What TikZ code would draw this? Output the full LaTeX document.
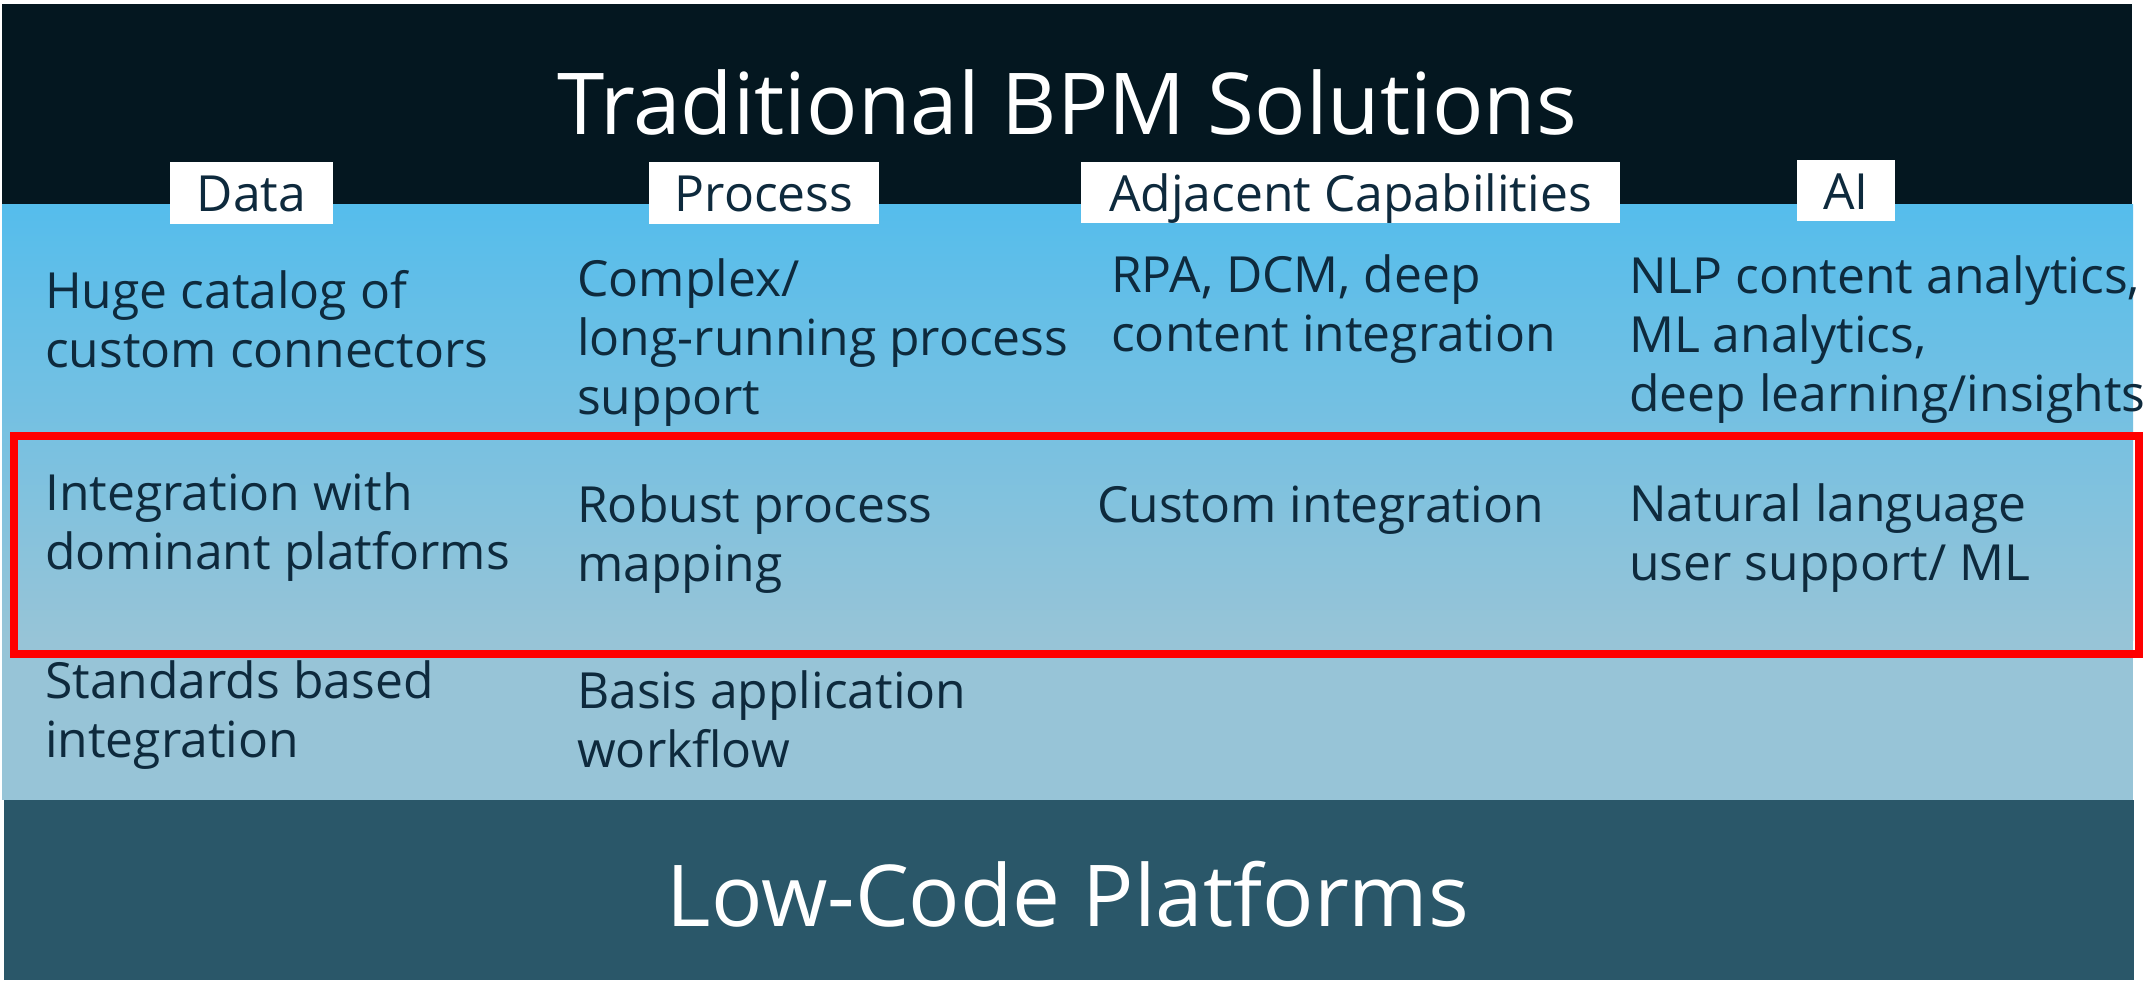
\documentclass[tikz,border=0pt]{standalone}
\usepackage{fontspec}
\setmainfont{Open Sans}
\definecolor{topbg}{HTML}{041720}
\definecolor{blueA}{HTML}{55BDEC}
\definecolor{blueB}{HTML}{97C4D7}
\definecolor{lowbg}{HTML}{2A5769}
\definecolor{txt}{HTML}{0E2A3D}
\definecolor{redline}{HTML}{FF0000}
\tikzset{
  body/.style={anchor=base west, inner sep=0pt, align=left, text=txt,
    font=\fontsize{49.8}{59}\selectfont},
  lab/.style={fill=white, inner sep=0pt, text=txt, anchor=center,
    text height=37pt, text depth=0pt,
    font=\fontsize{49.8}{59}\selectfont},
  bigtitle/.style={anchor=base, inner sep=0pt, text=white,
    font=\fontsize{85.4}{100}\selectfont}
}
\begin{document}
\begin{tikzpicture}[x=1pt,y=-1pt]
\useasboundingbox (0,0) rectangle (2151,980);
\fill[white] (0,0) rectangle (2151,980);
\fill[topbg] (2,4) rectangle (2132,204);
\shade[top color=blueA, bottom color=blueB] (2,204) rectangle (2133,640);
\fill[blueB] (2,639.5) rectangle (2133,800);
\fill[lowbg] (4,800) rectangle (2134,980);

\node[bigtitle] (title) at (1067,134) {Traditional BPM Solutions};
\node[bigtitle] (low) at (1068,926) {Low-Code Platforms};

\node[lab, minimum width=163pt, minimum height=62pt] (ldata) at (251.5,193) {Data};
\node[lab, minimum width=230pt, minimum height=62pt] (lproc) at (764,193) {Process};
\node[lab, minimum width=539pt, minimum height=61pt] (ladj) at (1350.5,192.5) {Adjacent Capabilities};
\node[lab, minimum width=98pt, minimum height=61pt] (lai) at (1846,190.5) {AI};

% base anchor = baseline of the last line
\node[body] (d1) at (45,367) {Huge catalog of\\custom connectors};
\node[body] (p1) at (577,414) {Complex/\\long-running process\\support};
\node[body] (a1) at (1111,351) {RPA, DCM, deep\\content integration};
\node[body] (i1) at (1629,411) {NLP content analytics,\\ML analytics,\\deep learning/insights};

\node[body] (d2) at (45,569) {Integration with\\dominant platforms};
\node[body] (p2) at (577,581) {Robust process\\mapping};
\node[body] (a2) at (1097,522) {Custom integration};
\node[body] (i2) at (1629,580) {Natural language\\user support/ ML};

\node[body] (d3) at (45,757) {Standards based\\integration};
\node[body] (p3) at (577,767) {Basis application\\workflow};

\draw[redline, line width=8pt] (14,436) rectangle (2139,654);
\end{tikzpicture}
\end{document}
